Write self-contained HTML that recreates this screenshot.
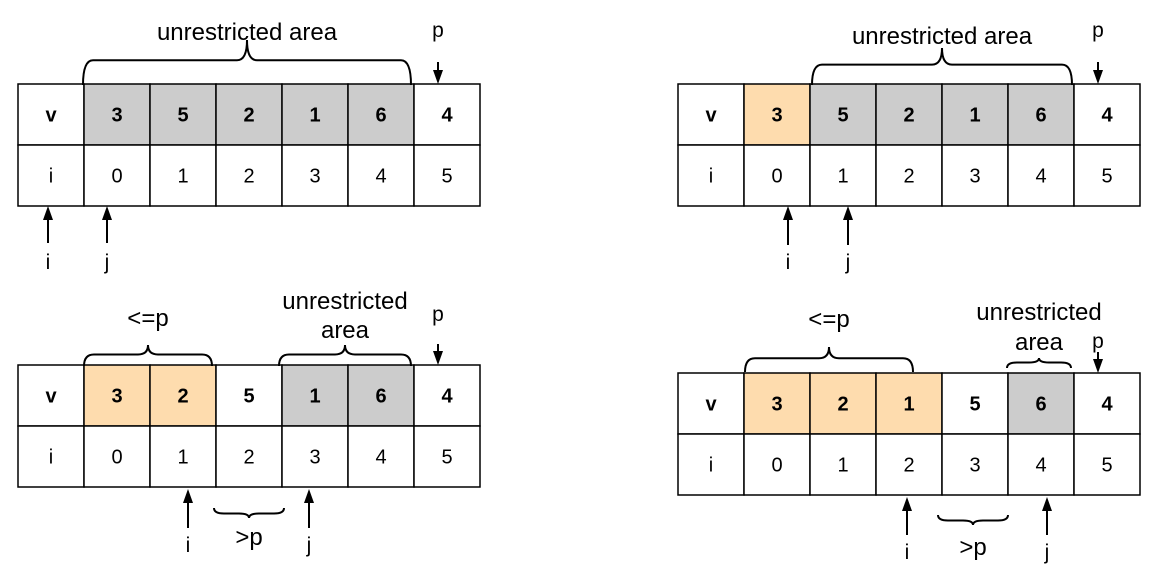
<!DOCTYPE html>
<html><head><meta charset="utf-8"><style>
html,body{margin:0;padding:0;background:#fff;width:1168px;height:575px;overflow:hidden}
svg text{font-family:"Liberation Sans",sans-serif;fill:#000}
</style></head><body>
<svg id="s" width="1168" height="575" xmlns="http://www.w3.org/2000/svg"></svg>
<script>
const NS="http://www.w3.org/2000/svg";
const svg=document.getElementById('s');
const vals1=["3","5","2","1","6","4"];
const vals2=["3","5","2","1","6","4"];
const vals3=["3","2","5","1","6","4"];
const vals4=["3","2","1","5","6","4"];
const fills1=["g","g","g","g","g","w"];
const fills2=["o","g","g","g","g","w"];
const fills3=["o","o","w","g","g","w"];
const fills4=["o","o","o","w","g","w"];
const idx=["0","1","2","3","4","5"];
const COL={g:"#cccccc",o:"#fedcae",w:"#ffffff"};
const LF=24;
function el(t,a,p){const e=document.createElementNS(NS,t);for(const k in a)e.setAttribute(k,a[k]);(p||svg).appendChild(e);return e;}
function txt(x,y,s,size,bold,p){const t=el('text',{x:x,y:y,'text-anchor':'middle','font-size':size,'font-weight':bold?'bold':'normal'},p);t.textContent=s;return t;}
function brace(x1,x2,t,b,p){const c=(x1+x2)/2,m=t+(b-t)*0.45,r=Math.min(10,(x2-x1)/6);
 return el('path',{d:`M${x1} ${b} Q${x1} ${m} ${x1+r} ${m} L${c-r} ${m} Q${c} ${m} ${c} ${t} Q${c} ${m} ${c+r} ${m} L${x2-r} ${m} Q${x2} ${m} ${x2} ${b}`,fill:'none',stroke:'#000','stroke-width':2},p);}
function upArrow(x,y1,y2,p){el('line',{x1:x,y1:y1+10,x2:x,y2:y2,stroke:'#000','stroke-width':2},p);el('polygon',{points:`${x},${y1} ${x-5},${y1+14} ${x+5},${y1+14}`,fill:'#000'},p);}
function downArrow(x,y1,y2,p){el('line',{x1:x,y1:y1,x2:x,y2:y2-10,stroke:'#000','stroke-width':2},p);el('polygon',{points:`${x},${y2} ${x-5},${y2-14} ${x+5},${y2-14}`,fill:'#000'},p);}
function table(x0,y0,vals,fills,name){
 const g=el('g',{});
 
 
 const w=66,h=61;
 const hdr=[{l:"v",f:"w"}].concat(vals.map((v,i)=>({l:v,f:fills[i]})));
 const ids=["i"].concat(idx);
 for(let c=0;c<7;c++){
  const r1=el('rect',{x:x0+c*w,y:y0,width:w,height:h,fill:COL[hdr[c].f],stroke:'#000','stroke-width':1.5},g);
  
  
  txt(x0+c*w+w/2,y0+h/2+7,hdr[c].l,20,true,g);
  const r2=el('rect',{x:x0+c*w,y:y0+h,width:w,height:h,fill:'#fff',stroke:'#000','stroke-width':1.5},g);
  
  
  txt(x0+c*w+w/2,y0+h+h/2+7,ids[c],20,false,g);
 }
 return g;
}
let g1=table(18,84,vals1,fills1,'table-step-1');
brace(83,411,40,85,g1);txt(247,40,"unrestricted area",LF,false,g1);
txt(438,37,"p",21,false,g1);downArrow(438,62,84,g1);
upArrow(48,206,243,g1);txt(48,269,"i",21,false,g1);
upArrow(107,206,243,g1);txt(107,269,"j",21,false,g1);
let g2=table(678,84,vals2,fills2,'table-step-2');
brace(812,1072,48,85,g2);txt(942,44,"unrestricted area",LF,false,g2);
txt(1098,37,"p",21,false,g2);downArrow(1098,62,84,g2);
upArrow(788,206,245,g2);txt(788,269,"i",21,false,g2);
upArrow(848,206,245,g2);txt(848,269,"j",21,false,g2);
let g3=table(18,365,vals3,fills3,'table-step-3');
brace(84,212,345,366,g3);txt(148,326,"<=p",LF,false,g3);
brace(279,411,345,366,g3);txt(345,309,"unrestricted",LF,false,g3);txt(345,338,"area",LF,false,g3);
txt(438,321,"p",21,false,g3);downArrow(438,344,365,g3);
upArrow(188,489,528,g3);txt(188,552,"i",21,false,g3);
upArrow(309,489,528,g3);txt(309,552,"j",21,false,g3);
brace(214,284,518,508,g3);txt(249,545,">p",LF,false,g3);
let g4=table(678,373,vals4,fills4,'table-step-4');
brace(745,913,347,372,g4);txt(829,327,"<=p",LF,false,g4);
brace(1007,1071,358,368,g4);txt(1039,320,"unrestricted",LF,false,g4);txt(1039,350,"area",LF,false,g4);
txt(1098,348,"p",21,false,g4);downArrow(1098,352,373,g4);
upArrow(907,497,535,g4);txt(907,559,"i",21,false,g4);
upArrow(1047,497,535,g4);txt(1047,559,"j",21,false,g4);
brace(938,1008,525,515,g4);txt(973,555,">p",LF,false,g4);
</script>
</body></html>
